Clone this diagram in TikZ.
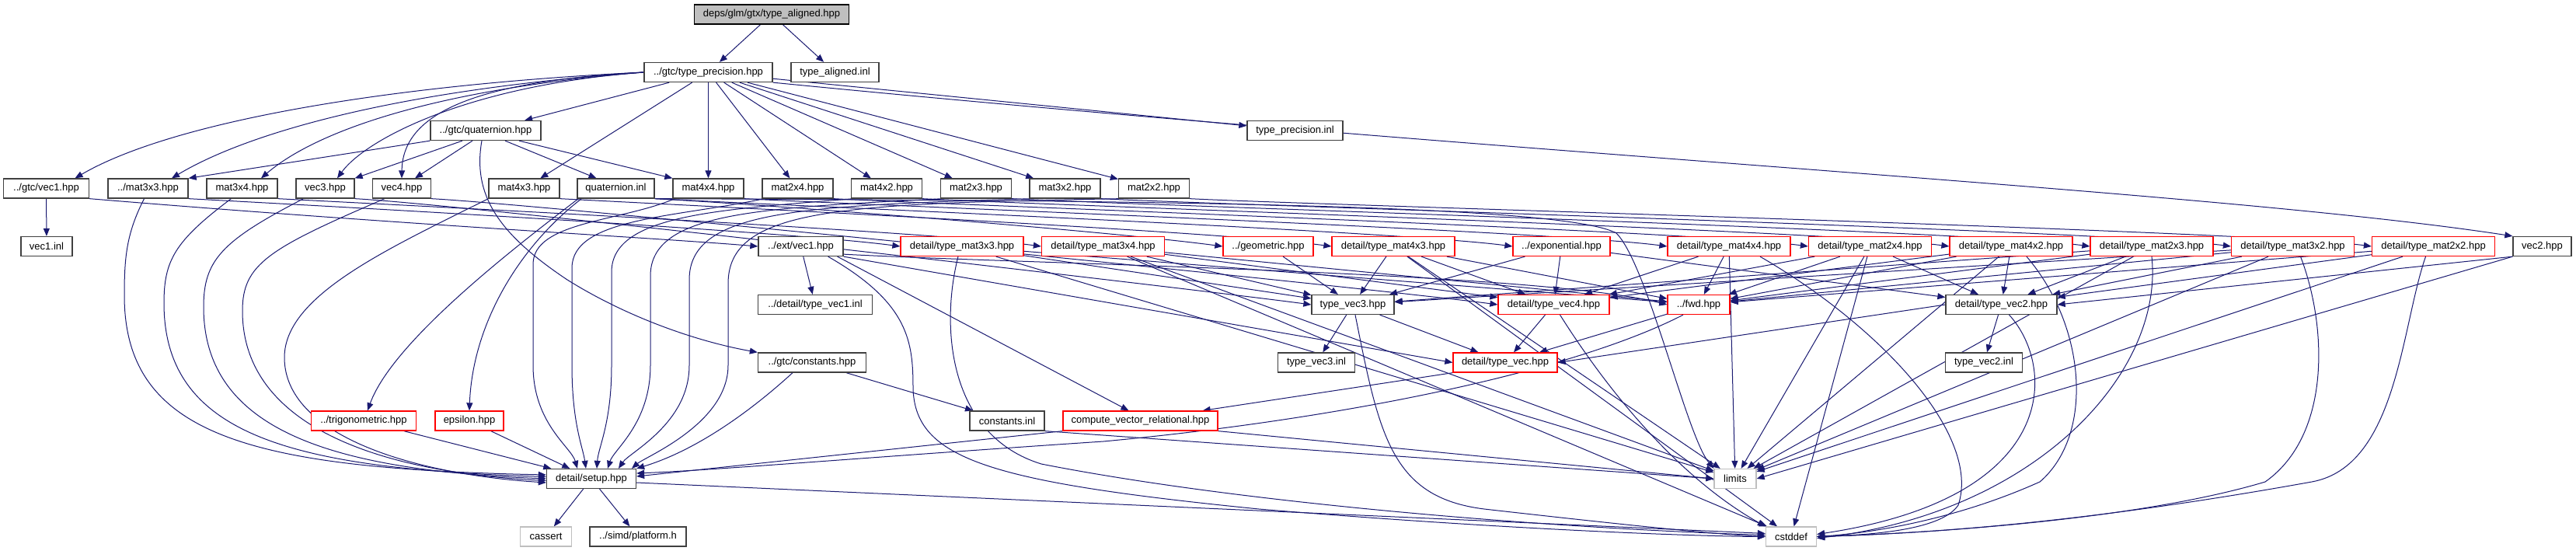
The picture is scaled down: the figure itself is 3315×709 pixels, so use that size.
\documentclass[tikz,border=0pt]{standalone}
\usepackage{fontspec}
\setmainfont{Liberation Sans}
\usetikzlibrary{arrows.meta,calc}
\pgfdeclarelayer{edges}
\pgfsetlayers{edges,main}
\definecolor{edgeblue}{HTML}{191970}
\definecolor{boxgray}{HTML}{404040}
\definecolor{sysgray}{HTML}{BFBFBF}
\definecolor{rootfill}{HTML}{BFBFBF}
\begin{document}
\begin{tikzpicture}[x=1pt,y=1pt,
  nd/.style={draw=boxgray, line width=1.3pt, fill=white, minimum height=25pt, inner sep=0pt, font=\fontsize{13}{15}\selectfont},
  rn/.style={nd, draw=red},
  sn/.style={nd, draw=sysgray},
  rootnd/.style={nd, draw=black, fill=rootfill},
  e/.style={draw=edgeblue, line width=1pt, -{Triangle[length=10pt,width=8pt]}},
]
\useasboundingbox (0,0) rectangle (3315,-709);
% ---------- nodes ----------
\node[rootnd, minimum width=199pt] (root) at (993,-18.5) {deps/glm/gtx/type\_aligned.hpp};
\node[nd, minimum width=165pt] (tp) at (911.5,-93) {../gtc/type\_precision.hpp};
\node[nd, minimum width=113pt] (tainl) at (1074.5,-93) {type\_aligned.inl};
\node[nd, minimum width=142pt] (quat) at (625,-168) {../gtc/quaternion.hpp};
\node[nd, minimum width=123pt] (tpinl) at (1666.5,-168) {type\_precision.inl};
\node[nd, minimum width=110pt] (gvec1) at (59.5,-242.5) {../gtc/vec1.hpp};
\node[nd, minimum width=103pt] (mat33) at (190.5,-242.5) {../mat3x3.hpp};
\node[nd, minimum width=91pt] (mat34) at (311.5,-242.5) {mat3x4.hpp};
\node[nd, minimum width=75pt] (vec3) at (418.5,-242.5) {vec3.hpp};
\node[nd, minimum width=75pt] (vec4) at (517,-242.5) {vec4.hpp};
\node[nd, minimum width=91pt] (mat43) at (674.5,-242.5) {mat4x3.hpp};
\node[nd, minimum width=99pt] (quatinl) at (792.5,-242.5) {quaternion.inl};
\node[nd, minimum width=91pt] (mat44) at (911.5,-242.5) {mat4x4.hpp};
\node[nd, minimum width=91pt] (mat24) at (1026.5,-242.5) {mat2x4.hpp};
\node[nd, minimum width=91pt] (mat42) at (1141,-242.5) {mat4x2.hpp};
\node[nd, minimum width=91pt] (mat23) at (1256,-242.5) {mat2x3.hpp};
\node[nd, minimum width=91pt] (mat32) at (1370.5,-242.5) {mat3x2.hpp};
\node[nd, minimum width=91pt] (mat22) at (1485,-242.5) {mat2x2.hpp};
\node[nd, minimum width=66pt] (vec1inl) at (60,-317) {vec1.inl};
\node[nd, minimum width=109pt] (evec1) at (1030.5,-317) {../ext/vec1.hpp};
\node[rn, minimum width=158pt] (tm33) at (1238,-317) {detail/type\_mat3x3.hpp};
\node[rn, minimum width=158pt] (tm34) at (1419.5,-317) {detail/type\_mat3x4.hpp};
\node[rn, minimum width=116pt] (geom) at (1632,-317) {../geometric.hpp};
\node[rn, minimum width=158pt] (tm43) at (1793,-317) {detail/type\_mat4x3.hpp};
\node[rn, minimum width=125pt] (expo) at (2009.5,-317) {../exponential.hpp};
\node[rn, minimum width=158pt] (tm44) at (2225,-317) {detail/type\_mat4x4.hpp};
\node[rn, minimum width=158pt] (tm24) at (2406.5,-317) {detail/type\_mat2x4.hpp};
\node[rn, minimum width=158pt] (tm42) at (2588,-317) {detail/type\_mat4x2.hpp};
\node[rn, minimum width=158pt] (tm23) at (2769,-317) {detail/type\_mat2x3.hpp};
\node[rn, minimum width=158pt] (tm32) at (2950.5,-317) {detail/type\_mat3x2.hpp};
\node[rn, minimum width=158pt] (tm22) at (3131.5,-317) {detail/type\_mat2x2.hpp};
\node[nd, minimum width=75pt] (vec2) at (3271.5,-317) {vec2.hpp};
\node[nd, minimum width=147pt] (tv1inl) at (1049,-392) {../detail/type\_vec1.inl};
\node[nd, minimum width=106pt] (tvec3) at (1741,-392) {type\_vec3.hpp};
\node[rn, minimum width=143pt] (tvec4) at (1999.5,-392) {detail/type\_vec4.hpp};
\node[rn, minimum width=80pt] (fwd) at (2186,-392) {../fwd.hpp};
\node[nd, minimum width=143pt] (tvec2) at (2575.5,-392) {detail/type\_vec2.hpp};
\node[nd, minimum width=139pt] (constants) at (1045,-466.5) {../gtc/constants.hpp};
\node[nd, minimum width=99pt] (tvec3inl) at (1694,-466.5) {type\_vec3.inl};
\node[rn, minimum width=134pt] (tvec) at (1937,-466.5) {detail/type\_vec.hpp};
\node[nd, minimum width=99pt] (tvec2inl) at (2553,-466.5) {type\_vec2.inl};
\node[rn, minimum width=135pt] (trig) at (468,-541.5) {../trigonometric.hpp};
\node[rn, minimum width=88pt] (eps) at (604,-541.5) {epsilon.hpp};
\node[nd, minimum width=96pt] (constinl) at (1296,-541.5) {constants.inl};
\node[rn, minimum width=199pt] (cvr) at (1467.5,-541.5) {compute\_vector\_relational.hpp};
\node[nd, minimum width=115pt] (setup) at (761,-616) {detail/setup.hpp};
\node[sn, minimum width=54pt] (limits) at (2233,-616) {limits};
\node[sn, minimum width=66pt] (cassert) at (702.5,-690.5) {cassert};
\node[nd, minimum width=124pt] (platform) at (821,-690.5) {../simd/platform.h};
\node[sn, minimum width=65pt] (cstddef) at (2305,-690.5) {cstddef};
% ---------- edges ----------
\begin{pgfonlayer}{edges}
\draw[e] (root) -- (tp);
\draw[e] (root) -- (tainl);
% type_precision
\draw[e] (tp.west) .. controls (480,-110) and (215,-160) .. ($(gvec1.north)+(37,0)$);
\draw[e] (tp.west) .. controls (515,-115) and (320,-170) .. ($(mat33.north)+(30.5,0)$);
\draw[e] (tp.west) .. controls (555,-115) and (405,-170) .. ($(mat34.north)+(24.5,0)$);
\draw[e] (tp.west) .. controls (600,-110) and (470,-180) .. ($(vec3.north)+(15.5,0)$);
\draw[e] (tp.west) .. controls (600,-105) and (518,-150) .. (vec4.north);
\draw[e] (tp) -- (quat);
\draw[e] (tp) -- (mat43);
\draw[e] (tp) -- (mat44);
\draw[e] (tp) -- (mat24);
\draw[e] (tp) -- (mat42);
\draw[e] (tp) -- (mat23);
\draw[e] (tp) -- (mat32);
\draw[e] (tp) -- (mat22);
\draw[e] (tp) -- (tpinl);
\draw[e] (tp.south east) .. controls (1950,-200) and (2850,-245) .. (vec2.north west);
% quaternion
\draw[e] (quat.south west) -- (mat33.north east);
\draw[e] ($(quat.south)+(-30,0)$) -- (vec3.north east);
\draw[e] ($(quat.south)+(-17,0)$) -- ($(vec4.north)+(17,0)$);
\draw[e] ($(quat.south)+(-5,0)$) .. controls (608,-250) and (640,-300) .. (730,-360) .. controls (810,-410) and (900,-440) .. (constants.north west);
\draw[e] ($(quat.south)+(25,0)$) -- ($(quatinl.north)+(-25,0)$);
\draw[e] ($(quat.south)+(43,0)$) -- (mat44.north west);
% gtc/vec1
\draw[e] (gvec1) -- (vec1inl);
\draw[e] (gvec1.south east) .. controls (530,-290) and (830,-305) .. (evec1.west);
% row 4 -> setup (left side)
\draw[e] ($(mat33.south)+(-5,0)$) .. controls (163,-300) and (160,-330) .. (160,-380) .. controls (160,-560) and (320,-603) .. ($(setup.west)+(0,5)$);
\draw[e] ($(mat34.south)+(-14,0)$) .. controls (225,-310) and (211,-335) .. (211,-390) .. controls (211,-560) and (375,-603) .. ($(setup.west)+(0,2.5)$);
\draw[e] ($(vec3.south)+(-28,0)$) .. controls (285,-310) and (262,-335) .. (262,-395) .. controls (262,-555) and (430,-605) .. (setup.west);
\draw[e] ($(vec4.south)+(-22,0)$) .. controls (345,-320) and (312,-340) .. (312,-400) .. controls (312,-545) and (480,-607) .. ($(setup.west)+(0,-2.5)$);
\draw[e] (mat43.south west) .. controls (500,-320) and (366,-380) .. (366,-460) .. controls (366,-560) and (530,-610) .. ($(setup.west)+(0,-5)$);
% row 4 -> setup (top)
\draw[e] ($(mat44.south west)+(3,0)$) .. controls (800,-285) and (686,-285) .. (686,-340) -- (686,-470) .. controls (686,-545) and (735,-575) .. ($(setup.north)+(-18,0)$);
\draw[e] ($(mat24.south west)+(3,0)$) .. controls (870,-280) and (736,-280) .. (736,-345) -- (736,-470) .. controls (736,-545) and (750,-575) .. ($(setup.north)+(-7,0)$);
\draw[e] ($(mat42.south west)+(3,0)$) .. controls (930,-270) and (787,-275) .. (787,-350) -- (787,-470) .. controls (787,-545) and (770,-575) .. ($(setup.north)+(7,0)$);
\draw[e] ($(mat23.south west)+(3,0)$) .. controls (980,-268) and (837,-272) .. (837,-355) -- (837,-470) .. controls (837,-545) and (790,-578) .. ($(setup.north)+(21,0)$);
\draw[e] ($(mat32.south west)+(3,0)$) .. controls (1030,-265) and (887,-270) .. (887,-360) -- (887,-470) .. controls (887,-545) and (810,-582) .. ($(setup.north)+(35,0)$);
\draw[e] ($(mat22.south west)+(3,0)$) .. controls (1080,-262) and (937,-268) .. (937,-365) -- (937,-470) .. controls (937,-545) and (830,-588) .. ($(setup.north)+(52,0)$);
% row 4 -> detail headers
\foreach \s/\t in {mat33/tm33, mat34/tm34, vec3/tvec3, vec4/tvec4, mat43/tm43, mat44/tm44,
  mat24/tm24, mat42/tm42, mat23/tm23, mat32/tm32, mat22/tm22, quatinl/geom, quatinl/expo}
  \draw[e] (\s.south east) .. controls +(150,-8) and +(-150,20) .. (\t.west);
% quaternion.inl
\draw[e] ($(quatinl.south west)+(2,0)$) .. controls (660,-320) and (505,-440) .. ($(trig.north)+(5,0)$);
\draw[e] ($(quatinl.south west)+(6,0)$) .. controls (665,-320) and (608,-420) .. (eps.north);
\draw[e] (quatinl.south east) .. controls (1450,-258) and (2010,-262) .. (2080,-300) .. controls (2120,-340) and (2170,-560) .. (limits.north west);
% ext/vec1
\draw[e] (evec1) -- (tv1inl);
\draw[e] ($(evec1.south east)+(0,3)$) .. controls (1330,-340) and (1980,-350) .. (fwd.west);
\draw[e] (evec1.south east) -- (tvec.west);
\draw[e] ($(evec1.south east)+(-8,0)$) -- ($(cvr.north)+(-15,0)$);
\draw[e] ($(evec1.south east)+(-20,0)$) .. controls (1170,-390) and (1175,-440) .. (1175,-500) .. controls (1178,-590) and (1270,-620) .. (1620,-655) .. controls (1920,-680) and (2170,-690) .. (cstddef.west);
% constants
\draw[e] (constants) -- (constinl);
\draw[e] ($(constants.south)+(-25,0)$) .. controls (965,-530) and (895,-580) .. (setup.north east);
\draw[e] (constinl.south east) -- (limits.west);
% compute_vector_relational
\draw[e] (cvr.south west) -- ($(setup.east)+(0,3)$);
\draw[e] (cvr.south east) -- (limits.west);
% fwd, type_vec
\draw[e] (fwd) -- (tvec);
\draw[e] ($(fwd.south)+(-20,0)$) .. controls (2020,-480) and (1720,-540) .. (1420,-568) .. controls (1120,-588) and (920,-605) .. ($(setup.east)+(0,7)$);
\draw[e] (tvec.south west) -- ($(cvr.north east)+(-20,0)$);
% type_vec3 / vec4 / vec2
\draw[e] (tvec3) -- (tvec3inl);
\draw[e] (tvec3) -- (tvec);
\draw[e] ($(tvec3.south)+(3,0)$) .. controls (1775,-560) and (1790,-640) .. (1910,-655) .. controls (2060,-672) and (2210,-688) .. (cstddef.west);
\draw[e] (tvec4) -- (tvec);
\draw[e] ($(tvec4.south)+(8,0)$) .. controls (2080,-520) and (2170,-620) .. (cstddef.north west);
\draw[e] (tvec2) -- (tvec2inl);
\draw[e] (tvec2.west) -- (tvec.east);
\draw[e] ($(tvec2.south)+(10,0)$) .. controls (2645,-470) and (2655,-640) .. ($(cstddef.east)+(0,3)$);
\draw[e] (vec2.south west) -- (tvec2.east);
\draw[e] (vec2.south west) -- (limits.east);
% detail matrices
\foreach \s/\t in {tm33/fwd, tm33/tvec3, tm33/limits,
  tm34/fwd, tm34/tvec3, tm34/tvec4, tm34/limits, tm34/cstddef,
  tm43/fwd, tm43/tvec3, tm43/tvec4, tm43/limits, tm43/cstddef,
  tm44/fwd, tm44/tvec4, tm44/limits,
  tm24/fwd, tm24/tvec2, tm24/tvec4, tm24/limits, tm24/cstddef,
  tm42/fwd, tm42/tvec2, tm42/tvec4, tm42/limits,
  tm23/fwd, tm23/tvec2, tm23/tvec3, tm23/limits,
  tm32/fwd, tm32/tvec2, tm32/tvec3, tm32/limits,
  tm22/fwd, tm22/tvec2, tm22/limits,
  geom/tvec3, expo/tvec2, expo/tvec3, expo/tvec4}
  \draw[e] (\s) -- (\t);
\draw[e] ($(tm33.south)+(-5,0)$) .. controls (1210,-420) and (1220,-560) .. (1340,-597) .. controls (1610,-650) and (2010,-680) .. ($(cstddef.west)+(0,2)$);
\draw[e] ($(tm44.south)+(40,0)$) .. controls (2420,-420) and (2550,-560) .. (2520,-650) .. controls (2500,-680) and (2420,-688) .. (cstddef.east);
\draw[e] ($(tm42.south)+(20,0)$) .. controls (2685,-420) and (2695,-560) .. (2625,-620) .. controls (2525,-665) and (2420,-685) .. (cstddef.east);
\draw[e] (tm23.south) .. controls (2785,-480) and (2620,-660) .. ($(cstddef.east)+(0,-2)$);
\draw[e] ($(tm32.south)+(10,0)$) .. controls (2995,-420) and (3000,-560) .. (2915,-620) .. controls (2765,-665) and (2515,-685) .. (cstddef.east);
\draw[e] ($(tm22.south)+(-10,0)$) .. controls (3090,-420) and (3085,-600) .. (2975,-620) .. controls (2725,-665) and (2525,-685) .. (cstddef.east);
% setup
\draw[e] (trig) -- (setup);
\draw[e] (eps) -- (setup);
\draw[e] (setup) -- (cassert);
\draw[e] (setup) -- (platform);
\draw[e] ($(setup.east)+(0,-5)$) -- ($(cstddef.west)+(0,4)$);
\end{pgfonlayer}
\end{tikzpicture}
\end{document}
